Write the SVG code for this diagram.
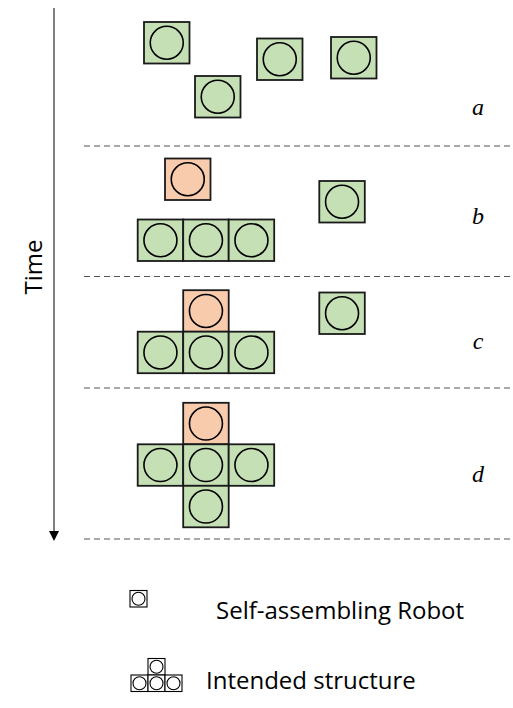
<svg xmlns="http://www.w3.org/2000/svg" width="513" height="708" viewBox="0 0 513 708">
<style>
.g{fill:#C5E0B4;stroke:#1a1a1a;stroke-width:1.8}
.o{fill:#F8CBAD;stroke:#1a1a1a;stroke-width:1.8}
.c{fill:none;stroke:#000;stroke-width:1.6}
.lg{fill:#fff;stroke:#000;stroke-width:1.1}
.dash{stroke:#555;stroke-width:1.2;stroke-dasharray:6 4;fill:none}
.lbl{font-family:"Liberation Serif",serif;font-style:italic;font-size:24px;fill:#000}
.txt{font-family:"Open Sans","Liberation Sans",sans-serif;font-size:24px;fill:#000}
</style>
<defs>
<g id="gr"><rect class="g" x="0" y="0" width="45.5" height="41.5"/><circle class="c" cx="22.75" cy="20.75" r="16.5"/></g>
<g id="or"><rect class="o" x="0" y="0" width="45.5" height="41.5"/><circle class="c" cx="22.75" cy="20.75" r="16.5"/></g>
<g id="lr"><rect class="lg" x="0" y="0" width="17" height="16.5"/><circle class="c" style="stroke-width:1.1" cx="8.5" cy="8.25" r="6.5"/></g>
</defs>
<g id="connectors">
<line x1="54" y1="8" x2="54" y2="532" stroke="#555" stroke-width="1.5"/>
<polygon points="49,531 59,531 54,541" fill="#000"/>
<line class="dash" x1="84" y1="146" x2="513" y2="146"/>
<line class="dash" x1="84" y1="276.5" x2="513" y2="276.5"/>
<line class="dash" x1="84" y1="388" x2="513" y2="388"/>
<line class="dash" x1="84" y1="539" x2="513" y2="539"/>
</g>
<text class="txt" transform="translate(42,267) rotate(-90)" text-anchor="middle">Time</text>
<g id="stage-a">
<use href="#gr" x="144" y="22"/>
<use href="#gr" x="195" y="76"/>
<use href="#gr" x="257" y="38.5"/>
<use href="#gr" x="331" y="37"/>
<text class="lbl" x="478" y="115" text-anchor="middle">a</text>
</g>
<g id="stage-b">
<use href="#or" x="165" y="158.5"/>
<use href="#gr" x="137.7" y="219.5"/>
<use href="#gr" x="183.2" y="219.5"/>
<use href="#gr" x="228.7" y="219.5"/>
<use href="#gr" x="319.3" y="181"/>
<text class="lbl" x="478" y="224" text-anchor="middle">b</text>
</g>
<g id="stage-c">
<use href="#or" x="183.2" y="290.2"/>
<use href="#gr" x="137.7" y="331.7"/>
<use href="#gr" x="183.2" y="331.7"/>
<use href="#gr" x="228.7" y="331.7"/>
<use href="#gr" x="319.3" y="292.5"/>
<text class="lbl" x="478" y="349" text-anchor="middle">c</text>
</g>
<g id="stage-d">
<use href="#or" x="183.2" y="402.8"/>
<use href="#gr" x="137.7" y="444.3"/>
<use href="#gr" x="183.2" y="444.3"/>
<use href="#gr" x="228.7" y="444.3"/>
<use href="#gr" x="183.2" y="485.8"/>
<text class="lbl" x="478" y="482" text-anchor="middle">d</text>
</g>
<g id="legend-robot">
<use href="#lr" x="130" y="590.5"/>
<text class="txt" x="216" y="619">Self-assembling Robot</text>
</g>
<g id="legend-structure">
<use href="#lr" x="148" y="658.5"/>
<use href="#lr" x="131" y="675"/>
<use href="#lr" x="148" y="675"/>
<use href="#lr" x="165" y="675"/>
<text class="txt" x="206" y="689">Intended structure</text>
</g>
</svg>
